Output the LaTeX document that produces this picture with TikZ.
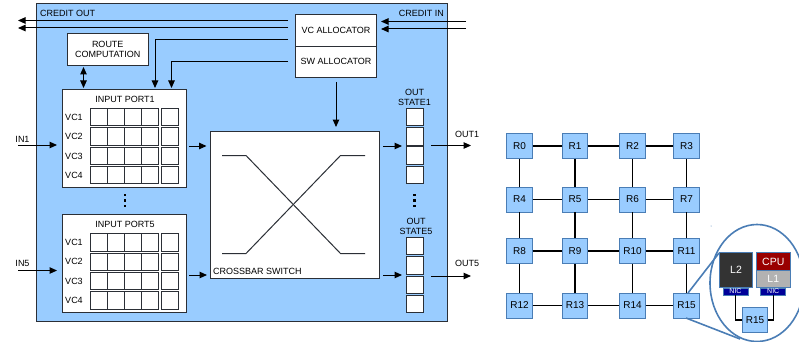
\documentclass[tikz,border=0pt]{standalone}
\usepackage{fontspec}
\setmainfont{Liberation Sans}
\usetikzlibrary{shapes,arrows.meta,positioning}
\definecolor{routerblue}{HTML}{99CCFF}
\definecolor{routeredge}{HTML}{4A7DB5}
\definecolor{boxedge}{HTML}{2B2F36}
\definecolor{nicblue}{HTML}{000099}
\definecolor{cpured}{HTML}{990000}

\begin{document}
\begin{tikzpicture}[
    x=1pt, y=-1pt,
    >={Stealth[length=7.5pt,width=6.5pt,inset=0pt]},
    panel/.style={rectangle, draw=boxedge, fill=white, line width=0.9pt, inner sep=0pt, align=center, font=\fontsize{9}{10.5}\selectfont},
    cell/.style={rectangle, draw=boxedge, fill=white, line width=0.9pt, inner sep=0pt, minimum width=17pt, minimum height=17.5pt},
    plain/.style={inner sep=0pt, align=center, font=\fontsize{9}{10.5}\selectfont},
    dot/.style={rectangle, fill=black, inner sep=0pt, minimum size=2.5pt},
    router/.style={rectangle, draw=routeredge, fill=routerblue, line width=0.9pt, inner sep=0pt, minimum width=25.5pt, minimum height=25pt, font=\fontsize{10}{12}\selectfont},
    nic/.style={rectangle, draw=routeredge, fill=nicblue, text=white, line width=0.7pt, inner sep=0pt, minimum width=25pt, minimum height=7pt, font=\fontsize{7}{7}\selectfont},
    arrow/.style={->, line width=1pt, color=black},
    wire/.style={line width=1pt, color=black},
    link/.style={line width=1.7pt, color=black},
    zoomline/.style={line width=1.6pt, color=routeredge}
]
\useasboundingbox (0,0) rectangle (799,342);

% Router container
\node[rectangle, draw=boxedge, fill=routerblue, line width=1pt, minimum width=411pt, minimum height=317.5pt, inner sep=0pt] (router-bg) at (241.5,162.5) {};

% Credit wires on both sides
\coordinate (creditout1) at (18,20.5);
\coordinate (creditout2) at (18,28);
\coordinate (creditoutend1) at (288,20.5);
\coordinate (creditoutend2) at (288,28);
\coordinate (creditin1) at (466,21.5);
\coordinate (creditin2) at (466,29);
\coordinate (creditinend1) at (381,21.5);
\coordinate (creditinend2) at (381,29);
\draw[arrow] (creditoutend1) -- (creditout1);
\draw[arrow] (creditoutend2) -- (creditout2);
\draw[arrow] (creditin1) -- (creditinend1);
\draw[arrow] (creditin2) -- (creditinend2);
\node[plain, anchor=west] (creditoutlabel) at (40,13) {CREDIT OUT};
\node[plain, anchor=east] (creditinlabel) at (444,13) {CREDIT IN};

% Route computation and allocators
\node[panel, minimum width=80.5pt, minimum height=31.5pt] (route) at (107.75,49.25) {ROUTE\\COMPUTATION};
\node[panel, minimum width=81pt, minimum height=31.5pt] (vcalloc) at (336,30.25) {VC ALLOCATOR};
\node[panel, minimum width=81pt, minimum height=31pt] (swalloc) at (336,61.5) {SW ALLOCATOR};

% Input ports
\node[panel, minimum width=124pt, minimum height=98pt] (port1) at (124,138) {};
\node[plain] (port1label) at (125,99) {INPUT PORT1};
\node[panel, minimum width=124pt, minimum height=98pt] (port5) at (124,263) {};
\node[plain] (port5label) at (125,224) {INPUT PORT5};

% Port 1 virtual channels
\node[plain] (vc11) at (74,117) {VC1};
\node[plain] (vc12) at (74,136.5) {VC2};
\node[plain] (vc13) at (74,156) {VC3};
\node[plain] (vc14) at (74,175) {VC4};
\node[cell] (a11) at (99,117) {}; \node[cell] (a12) at (116,117) {}; \node[cell] (a13) at (133,117) {}; \node[cell] (a14) at (150,117) {}; \node[cell] (a15) at (170,117) {};
\node[cell] (a21) at (99,136.25) {}; \node[cell] (a22) at (116,136.25) {}; \node[cell] (a23) at (133,136.25) {}; \node[cell] (a24) at (150,136.25) {}; \node[cell] (a25) at (170,136.25) {};
\node[cell] (a31) at (99,155.75) {}; \node[cell] (a32) at (116,155.75) {}; \node[cell] (a33) at (133,155.75) {}; \node[cell] (a34) at (150,155.75) {}; \node[cell] (a35) at (170,155.75) {};
\node[cell] (a41) at (99,174.75) {}; \node[cell] (a42) at (116,174.75) {}; \node[cell] (a43) at (133,174.75) {}; \node[cell] (a44) at (150,174.75) {}; \node[cell] (a45) at (170,174.75) {};

% Port 5 virtual channels
\node[plain] (vc51) at (74,242.5) {VC1};
\node[plain] (vc52) at (74,261.5) {VC2};
\node[plain] (vc53) at (74,281) {VC3};
\node[plain] (vc54) at (74,300) {VC4};
\node[cell] (b11) at (99,242.25) {}; \node[cell] (b12) at (116,242.25) {}; \node[cell] (b13) at (133,242.25) {}; \node[cell] (b14) at (150,242.25) {}; \node[cell] (b15) at (170,242.25) {};
\node[cell] (b21) at (99,261.75) {}; \node[cell] (b22) at (116,261.75) {}; \node[cell] (b23) at (133,261.75) {}; \node[cell] (b24) at (150,261.75) {}; \node[cell] (b25) at (170,261.75) {};
\node[cell] (b31) at (99,280.75) {}; \node[cell] (b32) at (116,280.75) {}; \node[cell] (b33) at (133,280.75) {}; \node[cell] (b34) at (150,280.75) {}; \node[cell] (b35) at (170,280.75) {};
\node[cell] (b41) at (99,300.25) {}; \node[cell] (b42) at (116,300.25) {}; \node[cell] (b43) at (133,300.25) {}; \node[cell] (b44) at (150,300.25) {}; \node[cell] (b45) at (170,300.25) {};

% Dots between the ports and between the output states
\node[dot] (portdot1) at (125,195) {};
\node[dot] (portdot2) at (125,200.5) {};
\node[dot] (portdot3) at (125,206) {};
\node[dot] (statedot1) at (414.5,195) {};
\node[dot] (statedot2) at (414.5,200.5) {};
\node[dot] (statedot3) at (414.5,206) {};

% Crossbar
\node[panel, minimum width=169pt, minimum height=146.5pt] (crossbar) at (294.5,204.75) {};
\node[plain, anchor=west] (crossbarlabel) at (213,271.5) {CROSSBAR SWITCH};
\coordinate (xa) at (222,155.5);
\coordinate (xb) at (246,155.5);
\coordinate (xc) at (340.5,253.5);
\coordinate (xd) at (365,253.5);
\coordinate (xe) at (222,253.5);
\coordinate (xf) at (246,253.5);
\coordinate (xg) at (340.5,155.5);
\coordinate (xh) at (365,155.5);
\draw[wire, color=boxedge] (xa) -- (xb) -- (xc) -- (xd);
\draw[wire, color=boxedge] (xe) -- (xf) -- (xg) -- (xh);

% Output state columns
\node[plain] (state1label) at (414.5,97.5) {OUT\\STATE1};
\node[cell] (s11) at (415,117) {};
\node[cell] (s12) at (415,136.25) {};
\node[cell] (s13) at (415,155.5) {};
\node[cell] (s14) at (415,174.75) {};
\node[plain] (state5label) at (416,226.5) {OUT\\STATE5};
\node[cell] (s51) at (415,246) {};
\node[cell] (s52) at (415,265.25) {};
\node[cell] (s53) at (415,284.75) {};
\node[cell] (s54) at (415,303.75) {};

% Router data path
\coordinate (in1) at (18,145);
\coordinate (in1end) at (57,145);
\coordinate (in5) at (18,270.5);
\coordinate (in5end) at (57,270.5);
\coordinate (out1) at (431,145.5);
\coordinate (out1end) at (471,145.5);
\coordinate (out5) at (431,276);
\coordinate (out5end) at (471,276);
\coordinate (port1out) at (189,146);
\coordinate (xbarin1) at (206.5,146);
\coordinate (port5out) at (189,275);
\coordinate (xbarin5) at (207,275);
\coordinate (xbarout1) at (383,146);
\coordinate (statein1) at (402,146);
\coordinate (xbarout5) at (383,275);
\coordinate (statein5) at (402,275);
\draw[arrow] (in1) -- (in1end);
\draw[arrow] (in5) -- (in5end);
\draw[arrow] (out1) -- (out1end);
\draw[arrow] (out5) -- (out5end);
\node[plain] (in1label) at (22.5,139) {IN1};
\node[plain] (in5label) at (22.5,263.5) {IN5};
\node[plain] (out1label) at (467,134.5) {OUT1};
\node[plain] (out5label) at (467,263.5) {OUT5};
\draw[arrow] (port1out) -- (xbarin1);
\draw[arrow] (port5out) -- (xbarin5);
\draw[arrow] (xbarout1) -- (statein1);
\draw[arrow] (xbarout5) -- (statein5);

% Control wires
\coordinate (routeport) at (83.5,67);
\coordinate (portroute) at (83.5,88);
\coordinate (vcgrant) at (288,40);
\coordinate (portvc) at (155,88);
\coordinate (swgrant) at (288,62);
\coordinate (portsw) at (171.5,88);
\coordinate (swout) at (336,82);
\coordinate (xbarin) at (336,127);
\draw[<->, line width=1pt] (routeport) -- (portroute);
\draw[arrow] (vcgrant) -| (portvc);
\draw[arrow] (swgrant) -| (portsw);
\draw[arrow] (swout) -- (xbarin);

% Mesh of routers
\node[router] (r0) at (519.5,146) {R0};
\node[router] (r1) at (575,146) {R1};
\node[router] (r2) at (632.5,146) {R2};
\node[router] (r3) at (686.5,146) {R3};
\node[router] (r4) at (519.5,199.5) {R4};
\node[router] (r5) at (575,199.5) {R5};
\node[router] (r6) at (632.5,199.5) {R6};
\node[router] (r7) at (686.5,199.5) {R7};
\node[router] (r8) at (519.5,251) {R8};
\node[router] (r9) at (575,251) {R9};
\node[router] (r10) at (632.5,251) {R10};
\node[router] (r11) at (686.5,251) {R11};
\node[router] (r12) at (519.5,305.5) {R12};
\node[router] (r13) at (575,305.5) {R13};
\node[router] (r14) at (632.5,305.5) {R14};
\node[router] (r15) at (686.5,305.5) {R15};

% Horizontal links
\draw[link] (r0) -- (r1);
\draw[link] (r1) -- (r2);
\draw[link] (r2) -- (r3);
\draw[link] (r4) -- (r5);
\draw[link] (r5) -- (r6);
\draw[link] (r6) -- (r7);
\draw[link] (r8) -- (r9);
\draw[link] (r9) -- (r10);
\draw[link] (r10) -- (r11);
\draw[link] (r12) -- (r13);
\draw[link] (r13) -- (r14);
\draw[link] (r14) -- (r15);

% Vertical links
\draw[link] (r0) -- (r4);
\draw[link] (r4) -- (r8);
\draw[link] (r8) -- (r12);
\draw[link] (r1) -- (r5);
\draw[link] (r5) -- (r9);
\draw[link] (r9) -- (r13);
\draw[link] (r2) -- (r6);
\draw[link] (r6) -- (r10);
\draw[link] (r10) -- (r14);
\draw[link] (r3) -- (r7);
\draw[link] (r7) -- (r11);
\draw[link] (r11) -- (r15);

% Zoomed view of R15
\node[ellipse, draw=routeredge, line width=1.6pt, minimum width=94pt, minimum height=117pt, inner sep=0pt] (inset) at (757,283) {};
\node[circle, fill=routeredge, inner sep=0pt, minimum size=1pt] (speck) at (711,226) {};
\coordinate (r15top) at (688,293);
\coordinate (insettop) at (719,253);
\coordinate (r15bottom) at (686,318);
\coordinate (insetbottom) at (740,339);
\draw[zoomline] (r15top) -- (insettop);
\draw[zoomline] (r15bottom) -- (insetbottom);
\node[rectangle, draw=routeredge, fill=black!80, text=white, line width=0.9pt, inner sep=0pt, minimum width=33pt, minimum height=35pt, font=\fontsize{10.5}{12}\selectfont] (l2) at (736,270.25) {L2};
\node[rectangle, draw=routeredge, fill=cpured, text=white, line width=0.9pt, inner sep=0pt, minimum width=33.5pt, minimum height=17.5pt, font=\fontsize{10.5}{12}\selectfont] (cpu) at (773.25,261.5) {CPU};
\node[rectangle, draw=routeredge, fill=black!30, text=white, line width=0.9pt, inner sep=0pt, minimum width=33.5pt, minimum height=17.5pt, font=\fontsize{10.5}{12}\selectfont] (l1) at (773.25,279) {L1};
\node[nic] (nicl2) at (735.5,291.5) {NIC};
\node[nic] (niccpu) at (773.25,291.5) {NIC};
\node[router] (r15b) at (755,320) {R15};
\draw[link, line width=1.4pt] (nicl2.south) |- (r15b.west);
\draw[link, line width=1.4pt] (niccpu.south) |- (r15b.east);

\end{tikzpicture}
\end{document}
